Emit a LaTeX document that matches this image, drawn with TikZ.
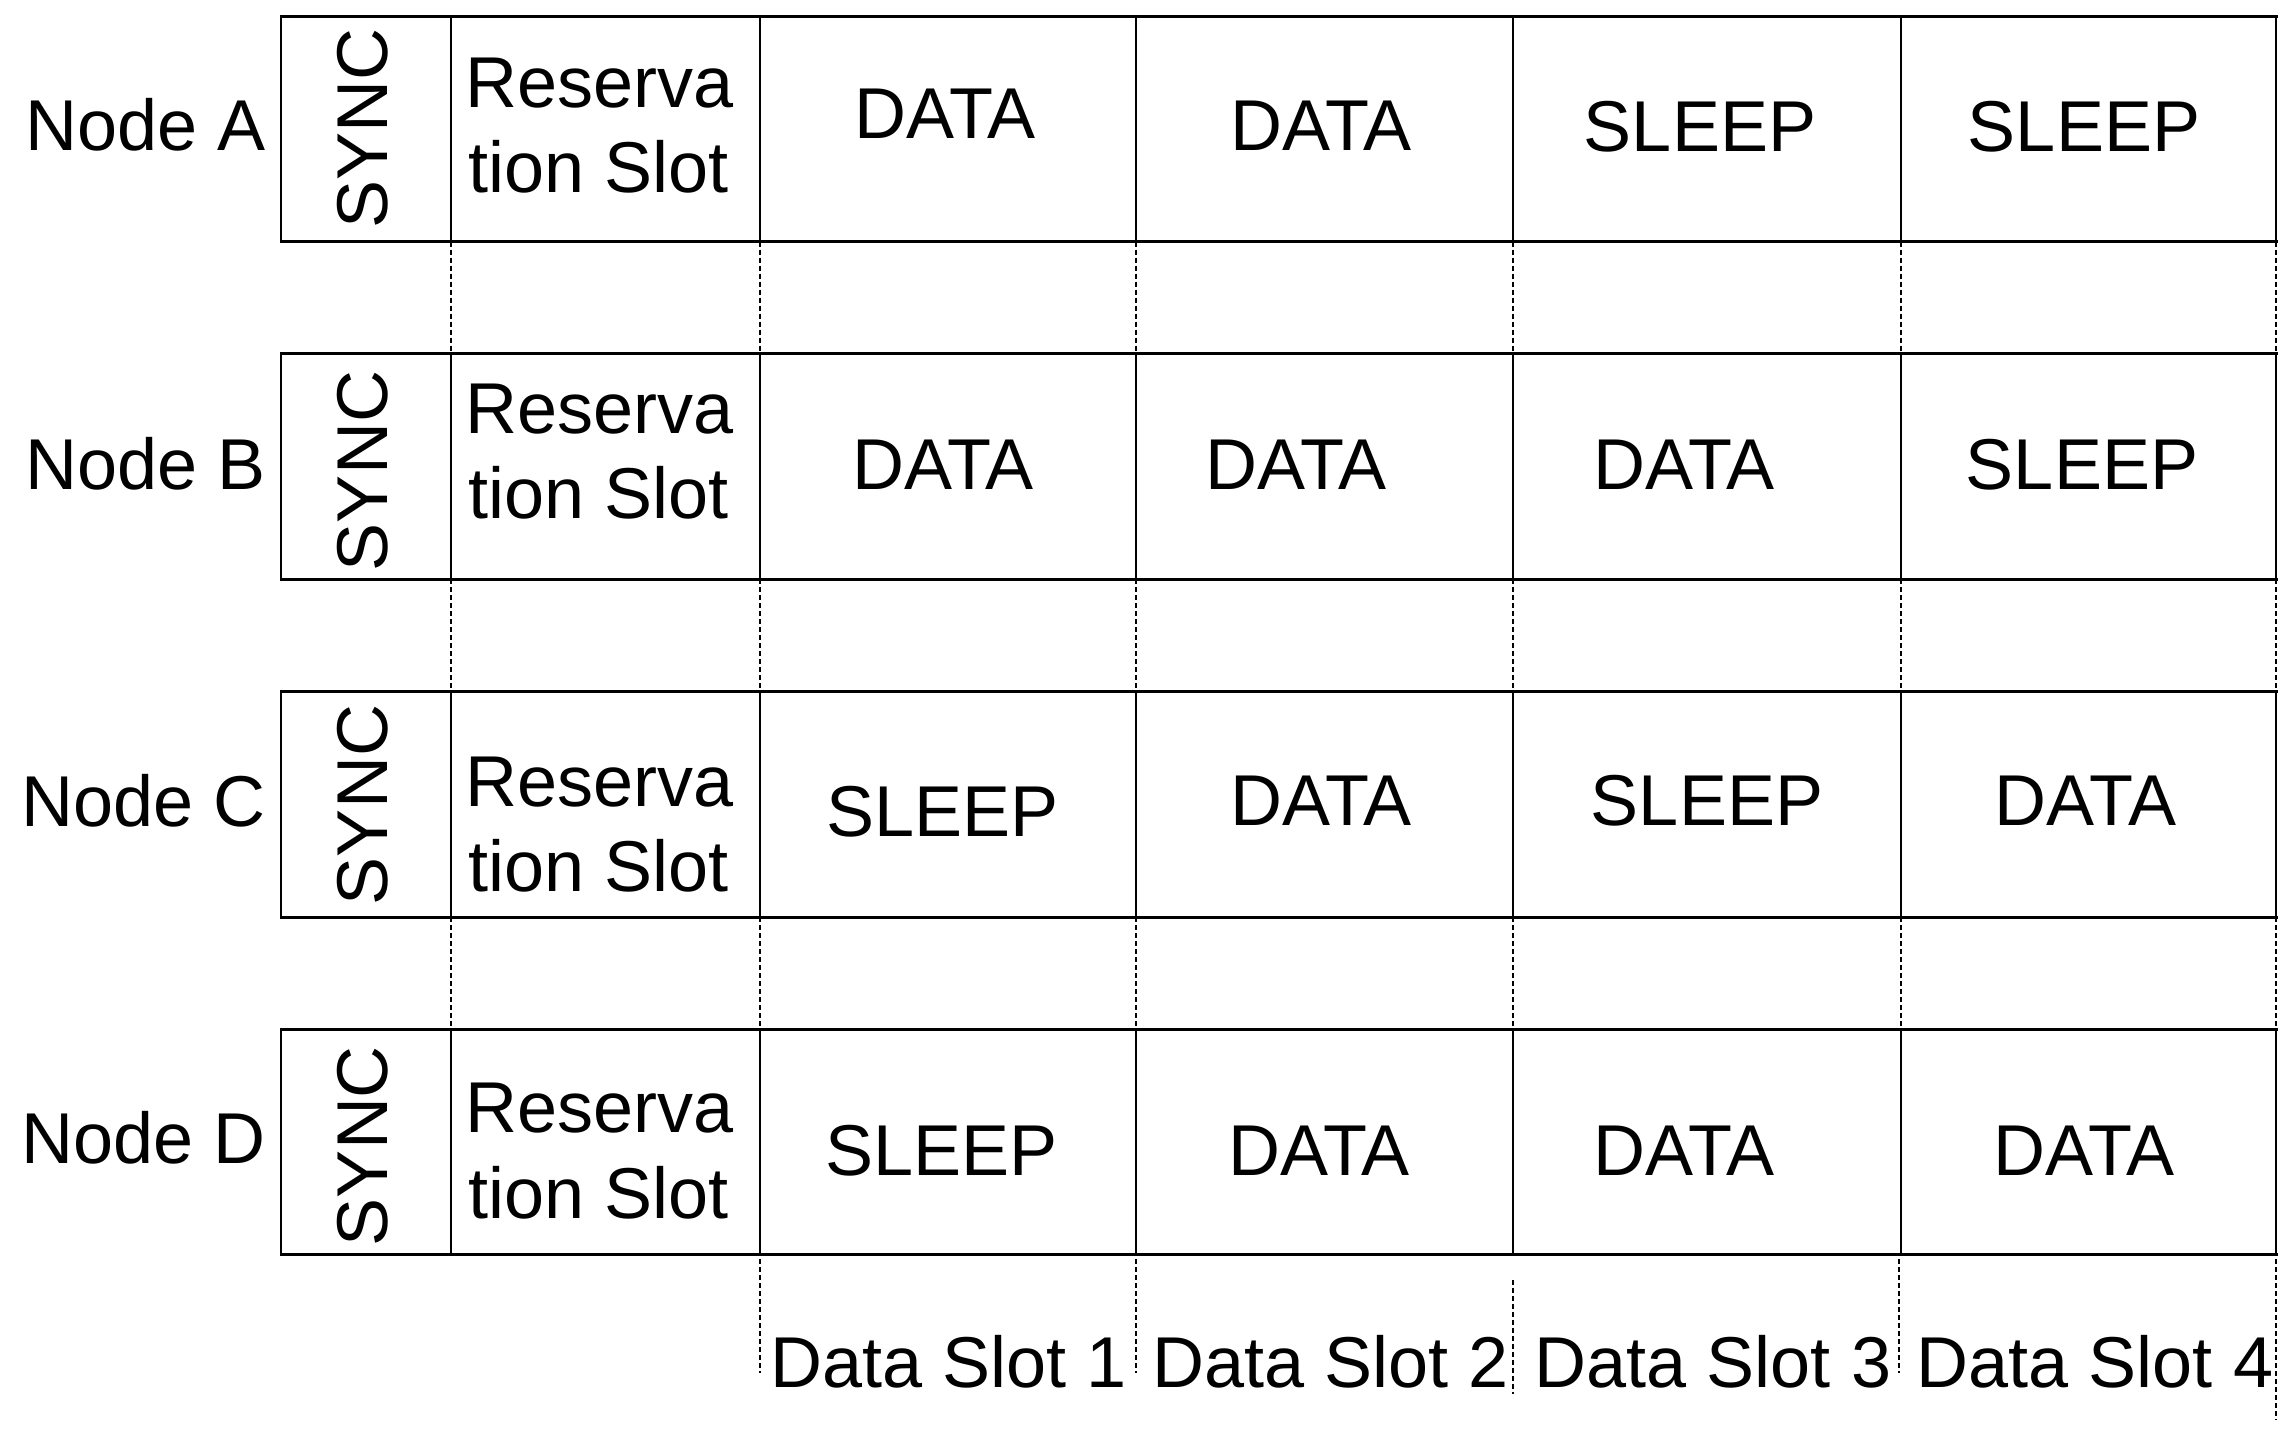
\documentclass[tikz,border=0pt]{standalone}
\usepackage{fontspec}
\setmainfont{Liberation Sans}
\begin{document}
\begin{tikzpicture}[x=1pt,y=-1pt,
  lbl/.style={font=\fontsize{72}{86}\selectfont, inner sep=0pt, text height=51.6pt, text depth=0pt},
  reslbl/.style={font=\fontsize{72}{86}\selectfont, inner sep=0pt, anchor=base west},
  frame/.style={line width=3pt, line cap=rect},
  divider/.style={line width=2pt},
  guide/.style={line width=1.3pt, dash pattern=on 5pt off 3pt}]
\useasboundingbox (0,0) rectangle (2296,1440);

% row frames: top, bottom
\foreach \t/\b in {16/241.6, 353.7/579.3, 691.4/917, 1029.1/1254.7}{
  \draw[frame] (281,\t) -- (2276,\t);
  \draw[frame] (281,\b) -- (2276,\b);
  \foreach \x in {281,451,760,1136,1513,1901,2276}
    \draw[divider] (\x,\t) -- (\x,\b);
}
% dashed guides in the gaps between rows
\foreach \b/\t in {241.6/353.7, 579.3/691.4, 917/1029.1}{
  \foreach \x in {451,760,1136,1513,1901,2276}
    \draw[guide] (\x,\b) -- (\x,\t);
}
% dashed guides under the last row
\coordinate (g1a) at (760,1259);  \coordinate (g1b) at (760,1373);
\coordinate (g2a) at (1136,1259); \coordinate (g2b) at (1136,1373);
\coordinate (g3a) at (1513,1280); \coordinate (g3b) at (1513,1394);
\coordinate (g4a) at (1899,1259); \coordinate (g4b) at (1899,1373);
\coordinate (g5a) at (2276,1259); \coordinate (g5b) at (2276,1420);
\draw[guide] (g1a) -- (g1b);
\draw[guide] (g2a) -- (g2b);
\draw[guide] (g3a) -- (g3b);
\draw[guide] (g4a) -- (g4b);
\draw[guide] (g5a) -- (g5b);

% node labels
\node[lbl, anchor=east] (nA) at (266,125) {Node A};
\node[lbl, anchor=east] (nB) at (266,464) {Node B};
\node[lbl, anchor=east] (nC) at (266,801) {Node C};
\node[lbl, anchor=east] (nD) at (266,1138) {Node D};

% SYNC
\node[lbl, rotate=90] (syncA) at (362,128.5) {SYNC};
\node[lbl, rotate=90] (syncB) at (362,471) {SYNC};
\node[lbl, rotate=90] (syncC) at (362,805) {SYNC};
\node[lbl, rotate=90] (syncD) at (362,1146) {SYNC};

% Reservation slot
\node[reslbl] (resA1) at (465,107.3) {Reserva};
\node[reslbl] (resA2) at (468,192.7) {tion Slot};
\node[reslbl] (resB1) at (465,433) {Reserva};
\node[reslbl] (resB2) at (468,518) {tion Slot};
\node[reslbl] (resC1) at (465,806) {Reserva};
\node[reslbl] (resC2) at (468,891) {tion Slot};
\node[reslbl] (resD1) at (465,1132) {Reserva};
\node[reslbl] (resD2) at (468,1218) {tion Slot};

% row A
\node[lbl] (cA1) at (945,113) {DATA};
\node[lbl] (cA2) at (1321,124.5) {DATA};
\node[lbl] (cA3) at (1700,126) {SLEEP};
\node[lbl] (cA4) at (2084,126) {SLEEP};
% row B
\node[lbl] (cB1) at (943,464) {DATA};
\node[lbl] (cB2) at (1296,464) {DATA};
\node[lbl] (cB3) at (1684,464) {DATA};
\node[lbl] (cB4) at (2082,464) {SLEEP};
% row C
\node[lbl] (cC1) at (942.5,811) {SLEEP};
\node[lbl] (cC2) at (1321,800) {DATA};
\node[lbl] (cC3) at (1707,800) {SLEEP};
\node[lbl] (cC4) at (2085.5,800) {DATA};
% row D
\node[lbl] (cD1) at (941.5,1149.5) {SLEEP};
\node[lbl] (cD2) at (1319,1149.5) {DATA};
\node[lbl] (cD3) at (1684,1149.5) {DATA};
\node[lbl] (cD4) at (2084,1149.5) {DATA};

% data slot labels
\node[lbl] (slot1) at (949,1362) {Data Slot 1};
\node[lbl] (slot2) at (1331,1362) {Data Slot 2};
\node[lbl] (slot3) at (1713,1362) {Data Slot 3};
\node[lbl] (slot4) at (2095,1362) {Data Slot 4};
\end{tikzpicture}
\end{document}
